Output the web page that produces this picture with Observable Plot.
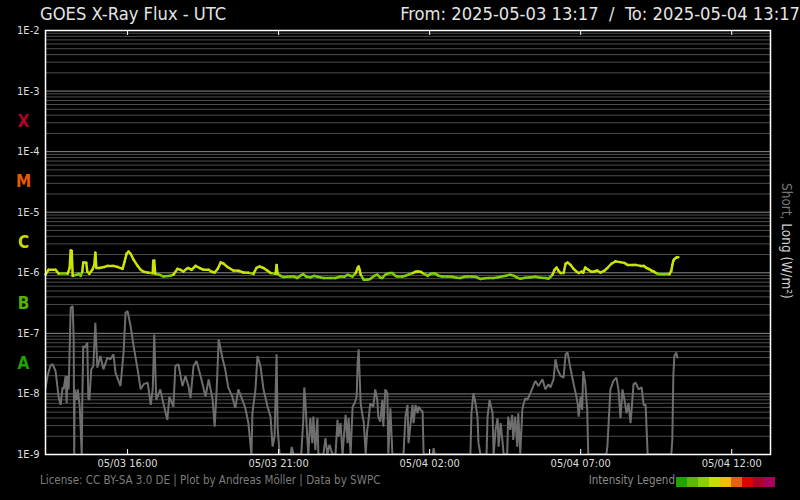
<!DOCTYPE html>
<html>
<head>
<meta charset="utf-8">
<script src="https://cdn.jsdelivr.net/npm/d3@7"></script>
<script src="https://cdn.jsdelivr.net/npm/@observablehq/plot@0.6"></script>
<style>
  html, body { margin: 0; padding: 0; background: #000; }
  #wrap { position: relative; width: 800px; height: 500px; overflow: hidden; background: #000;
          font-family: "DejaVu Sans Condensed", "DejaVu Sans", sans-serif; font-stretch: condensed; }
  #wrap svg { position: absolute; left: 0; top: 0; z-index: 0; }
  #wrap svg text { font-stretch: condensed; }
  .txt { position: absolute; white-space: nowrap; line-height: 1; z-index: 2; }
  #title { left: 40px; top: 4.5px; font-size: 18.2px; color: #e4e4e4; }
  #range { right: 0px; top: 4.5px; font-size: 18.2px; color: #e4e4e4; }
  #license { left: 40px; top: 475px; font-size: 11.5px; color: #7c7c7c; }
  #legendLabel { right: 125px; top: 475px; font-size: 11.5px; color: #8a8a8a; }
  #legendBar { position: absolute; left: 676px; top: 477px; height: 10px; display: flex; z-index: 2; }
  #legendBar div { width: 11px; height: 10px; }
  #ylab { left: 779px; top: 183px; font-size: 13.5px; writing-mode: vertical-rl; }
</style>
</head>
<body>
<div id="wrap">
  <div class="txt" id="title"></div>
  <div class="txt" id="range"></div>
  <div class="txt" id="license"></div>
  <div class="txt" id="legendLabel"></div>
  <div id="legendBar"></div>
  <div class="txt" id="ylab"></div>
</div>
<script>
// ---------- texts ----------
const titleText = "GOES X-Ray Flux - UTC";
const rangeText = "From: 2025-05-03 13:17\u00a0 /\u00a0 To: 2025-05-04 13:17";
const licenseText = "License: CC BY-SA 3.0 DE | Plot by Andreas Möller | Data by SWPC";
const legendText = "Intensity Legend";
const yLabelShort = "Short,";
const yLabelLong = " Long (W/m²)";

// ---------- axes ----------
const startTime = "2025-05-03T13:17:00Z";
const endTime = "2025-05-04T13:17:00Z";
const xTicks = ["2025-05-03T16:00:00Z", "2025-05-03T21:00:00Z", "2025-05-04T02:00:00Z", "2025-05-04T07:00:00Z", "2025-05-04T12:00:00Z"];
const yTicks = [1e-9, 1e-8, 1e-7, 1e-6, 1e-5, 1e-4, 1e-3, 1e-2];

// flare classes (label sits in the middle of its decade)
const classLetters = ["A", "B", "C", "M", "X"];
const classLow = [1e-8, 1e-7, 1e-6, 1e-5, 1e-4];
const classColors = ["#22a300", "#55b300", "#c8d800", "#e85a00", "#b3002a"];

// intensity legend swatches
const legendColors = ["#1fa300", "#5cb800", "#88d000", "#c8e000", "#f0c000", "#e86010", "#e00000", "#b00028", "#a8005c"];

// ---------- data: [minutes after start, flux W/m²] ----------
// Long channel (0.1-0.8 nm)
const longSeries = [
[0,0.93e-6],[6,1.12e-6],[20,1.12e-6],[26,0.97e-6],[44,0.97e-6],[48,1.2e-6],[50,2.33e-6],[52,2.3e-6],[54,0.89e-6],
[62,0.93e-6],[66,0.96e-6],[70,0.89e-6],[73,1.04e-6],[75,1.48e-6],[81,1.46e-6],[83,1.04e-6],[87,0.96e-6],[93,1.12e-6],
[97,1.35e-6],[99,2.14e-6],[101,1.2e-6],[107,1.2e-6],[117,1.25e-6],[123,1.3e-6],[135,1.3e-6],[143,1.25e-6],[153,1.16e-6],
[157,1.52e-6],[161,2.06e-6],[165,2.25e-6],[169,2.06e-6],[175,1.64e-6],[183,1.3e-6],[189,1.12e-6],[195,1.04e-6],[205,1.0e-6],
[213,0.98e-6],[214,1.58e-6],[216,1.58e-6],[218,0.96e-6],[226,0.93e-6],[234,0.87e-6],[248,0.89e-6],[254,0.93e-6],[262,1.16e-6],
[268,1.12e-6],[274,1.05e-6],[280,1.16e-6],[284,1.2e-6],[290,1.12e-6],[298,1.3e-6],[306,1.2e-6],[314,1.12e-6],[324,1.12e-6],
[330,1.04e-6],[336,1.01e-6],[342,1.16e-6],[348,1.48e-6],[354,1.41e-6],[361,1.25e-6],[373,1.09e-6],[383,1.08e-6],[393,1.01e-6],
[403,1.0e-6],[413,0.96e-6],[419,1.2e-6],[425,1.27e-6],[433,1.2e-6],[441,1.08e-6],[447,0.99e-6],[457,0.96e-6],[459,1.35e-6],
[461,0.96e-6],[467,0.89e-6],[473,0.85e-6],[487,0.87e-6],[493,0.87e-6],[500,0.82e-6],[506,0.89e-6],[512,0.95e-6],[518,0.86e-6],
[526,0.84e-6],[534,0.89e-6],[540,0.86e-6],[546,0.84e-6],[552,0.82e-6],[566,0.82e-6],[576,0.82e-6],[586,0.87e-6],[594,0.86e-6],
[600,0.93e-6],[610,0.87e-6],[616,0.99e-6],[620,1.2e-6],[622,1.27e-6],[624,1.12e-6],[626,0.93e-6],[632,0.77e-6],[639,0.77e-6],
[645,0.79e-6],[653,0.89e-6],[659,0.93e-6],[665,0.83e-6],[669,0.82e-6],[675,0.93e-6],[679,0.96e-6],[685,0.99e-6],[689,0.99e-6],
[695,0.89e-6],[699,0.87e-6],[709,0.87e-6],[715,0.89e-6],[721,0.93e-6],[729,0.99e-6],[735,1.04e-6],[739,1.05e-6],[745,1.04e-6],
[749,0.99e-6],[755,0.93e-6],[759,0.89e-6],[765,0.96e-6],[771,0.98e-6],[775,0.96e-6],[781,0.89e-6],[788,0.87e-6],[798,0.87e-6],
[808,0.86e-6],[816,0.83e-6],[824,0.82e-6],[832,0.86e-6],[838,0.87e-6],[846,0.87e-6],[854,0.86e-6],[860,0.82e-6],[864,0.79e-6],
[872,0.81e-6],[880,0.82e-6],[890,0.82e-6],[898,0.84e-6],[904,0.86e-6],[914,0.89e-6],[923,0.93e-6],[931,0.89e-6],[937,0.83e-6],
[943,0.8e-6],[953,0.83e-6],[963,0.84e-6],[973,0.86e-6],[983,0.83e-6],[993,0.82e-6],[999,0.8e-6],[1003,0.86e-6],[1007,0.93e-6],
[1011,1.12e-6],[1015,1.22e-6],[1019,1.08e-6],[1023,0.99e-6],[1029,0.99e-6],[1033,1.41e-6],[1037,1.48e-6],[1043,1.35e-6],
[1049,1.16e-6],[1055,1.04e-6],[1059,0.99e-6],[1065,1.05e-6],[1068,1.0e-6],[1072,1.22e-6],[1078,1.12e-6],[1084,1.04e-6],
[1090,1.05e-6],[1096,1.09e-6],[1102,1.01e-6],[1110,1.08e-6],[1116,1.2e-6],[1124,1.41e-6],[1132,1.54e-6],[1142,1.5e-6],
[1150,1.45e-6],[1156,1.35e-6],[1166,1.35e-6],[1172,1.35e-6],[1182,1.3e-6],[1188,1.3e-6],[1194,1.2e-6],[1199,1.15e-6],
[1204,1.08e-6],[1208,1.05e-6],[1212,1.0e-6],[1216,0.96e-6],[1221,0.95e-6],[1229,0.95e-6],[1239,0.95e-6],[1243,1.08e-6],
[1245,1.35e-6],[1247,1.58e-6],[1249,1.68e-6],[1253,1.79e-6],[1257,1.81e-6]
];

// Short channel (0.05-0.4 nm); 1e-9 = at the floor of the plot
const shortSeries = [
[0,1.22e-8],[4,1.98e-8],[10,2.97e-8],[14,3.09e-8],[20,2.39e-8],[26,9.0e-9],[30,6.6e-9],[34,1.29e-8],[36,1.19e-8],[40,1.98e-8],
[42,7.1e-9],[44,1.98e-8],[46,1.19e-8],[50,2.65e-7],[54,2.82e-7],[56,7.96e-8],[57,1e-9],[58,1.19e-8],[62,7.96e-9],[64,1.19e-8],
[68,6.17e-9],[72,1e-9],[73,7.1e-9],[75,6.17e-8],[79,5.88e-8],[83,7.02e-8],[85,8.5e-9],[87,7.96e-9],[91,2.55e-8],[95,2.89e-8],
[99,1.5e-7],[103,2.72e-8],[109,4.22e-8],[115,2.55e-8],[123,3.98e-8],[129,3.73e-8],[135,4.5e-8],[139,2.25e-8],[149,1.35e-8],
[155,4.81e-8],[159,2.19e-7],[163,2.33e-7],[169,1.32e-7],[175,6.17e-8],[183,2.55e-8],[189,1.19e-8],[195,1.45e-8],[203,1.54e-8],
[209,6.59e-9],[213,1.19e-8],[216,9.6e-8],[220,7.96e-9],[228,1.19e-8],[234,7.0e-9],[242,3.73e-9],[246,9.0e-9],[254,6.17e-9],
[258,2.89e-8],[264,3.09e-8],[272,1.35e-8],[278,1.98e-8],[284,1.35e-8],[288,8.5e-9],[294,2.89e-8],[300,3.5e-8],[308,1.98e-8],
[318,9.0e-9],[324,1.74e-8],[332,7.96e-9],[336,2.89e-9],[340,1.19e-8],[344,7.96e-8],[352,3.73e-8],[357,2.55e-8],[363,1.28e-8],
[371,9.0e-9],[377,5.88e-9],[383,1.19e-8],[391,7.96e-9],[397,5.8e-9],[403,3.29e-9],[409,1e-9],[411,4.81e-9],[417,1.19e-8],
[421,4.22e-8],[427,2.89e-8],[433,1.19e-8],[441,6.17e-9],[447,4.22e-9],[451,1.35e-9],[455,1.98e-9],[459,4.5e-8],[461,2.89e-9],
[465,1e-9],[487,1e-9],[489,1.33e-9],[493,1e-9],[508,1e-9],[512,3.73e-9],[514,1.28e-8],[516,7.96e-9],[520,1.86e-9],[522,1e-9],
[526,3.98e-9],[530,1.54e-9],[532,4.22e-9],[536,1.19e-9],[540,3.98e-9],[542,1e-9],[552,1e-9],[556,1.86e-9],[560,1e-9],
[564,1.45e-9],[570,1e-9],[576,1e-9],[580,3.73e-9],[582,1.98e-9],[586,3.29e-9],[590,1e-9],[596,4.5e-9],[600,1.54e-9],
[602,3.98e-9],[606,1e-9],[610,6.17e-9],[614,7.0e-9],[618,9.0e-9],[620,3.29e-8],[622,5.45e-8],[626,7.0e-9],[630,4.22e-9],
[632,3.5e-9],[636,1.03e-9],[639,2.55e-9],[641,3.29e-9],[645,7.0e-9],[651,6.17e-9],[655,1.19e-8],[659,7.96e-9],[661,4.22e-9],
[665,3.5e-9],[669,7.96e-9],[671,2.89e-9],[675,1.19e-8],[679,1.03e-8],[681,1.03e-9],[685,5.8e-9],[689,1e-9],[711,1e-9],
[715,4.22e-9],[719,6.59e-9],[721,1.54e-9],[729,6.59e-9],[731,3.29e-9],[735,6.59e-9],[739,4.81e-9],[741,6.17e-9],[745,5.45e-9],
[749,5.11e-9],[751,1e-9],[769,1e-9],[771,1.27e-9],[773,1e-9],[844,1e-9],[846,4.81e-9],[850,1.03e-8],[854,7.0e-9],[858,4.22e-9],
[860,1.54e-9],[864,1e-9],[876,1e-9],[878,4.22e-9],[882,7.96e-9],[888,4.81e-9],[890,1e-9],[894,2.55e-9],[898,3.98e-9],
[900,1.35e-9],[904,3.29e-9],[908,1.54e-9],[910,1e-9],[917,1e-9],[919,4.22e-9],[923,2.55e-9],[927,4.5e-9],[929,1.74e-9],
[933,4.22e-9],[937,1.35e-9],[939,4.81e-9],[943,1.03e-9],[947,5.45e-9],[949,6.59e-9],[953,8.5e-9],[957,7.96e-9],[963,1.03e-8],
[973,1.64e-8],[979,1.35e-8],[987,1.74e-8],[993,1.19e-8],[999,1.45e-8],[1003,1.28e-8],[1009,1.74e-8],[1013,3.73e-8],
[1017,2.55e-8],[1023,1.98e-8],[1029,1.86e-8],[1033,4.5e-8],[1037,4.81e-8],[1043,2.55e-8],[1049,1.45e-8],[1053,1.03e-8],
[1057,7.0e-9],[1059,4.22e-9],[1063,9.0e-9],[1066,5.45e-9],[1068,2.39e-8],[1072,1.54e-8],[1076,5.45e-9],[1078,1e-9],
[1114,1e-9],[1116,1.35e-9],[1122,1.19e-8],[1128,1.64e-8],[1134,1.86e-8],[1138,1.19e-8],[1142,3.98e-9],[1146,1.19e-8],
[1150,7.96e-9],[1154,4.81e-9],[1158,7.0e-9],[1162,3.29e-9],[1168,1.45e-8],[1172,1.54e-8],[1178,1.19e-8],[1184,1.28e-8],
[1188,6.59e-9],[1192,6.59e-9],[1196,1e-9],[1243,1e-9],[1245,1.74e-9],[1247,1.98e-8],[1249,4.22e-8],[1253,4.81e-8],[1255,3.98e-8]
];

// ---------- colours ----------
const longColorC = "#cce400";
const longColorB = "#80d000";
const shortColor = "#6e6e6e";

// ---------- build ----------
const t0 = new Date(startTime);
const toDate = m => new Date(t0.getTime() + m * 60000);
const shortData = shortSeries.map(([m, v]) => ({t: toDate(m), v}));
const longData = longSeries.map(([m, v]) => ({t: toDate(m), v}));
const longSegs = d3.pairs(longData).map(([a, b]) => ({t1: a.t, v1: a.v, t2: b.t, v2: b.v, c: Math.sqrt(a.v * b.v) >= 1e-6}));
const minorGrid = [];
for (let i = 0; i < yTicks.length - 1; i++) for (let k = 2; k <= 9; k++) minorGrid.push(yTicks[i] * k);
const classData = classLetters.map((L, i) => ({L, y: classLow[i] * Math.sqrt(10), c: classColors[i]}));
const xTickDates = xTicks.map(d => new Date(d));

const fontFamily = '"DejaVu Sans Condensed", "DejaVu Sans", sans-serif';

const chart = Plot.plot({
  width: 800, height: 500,
  marginTop: 30, marginRight: 30, marginBottom: 46, marginLeft: 45,
  style: {background: "#000", color: "#dddddd", fontFamily, fontSize: "11px"},
  x: {type: "utc", domain: [new Date(startTime), new Date(endTime)], label: null},
  y: {type: "log", domain: [yTicks[0], yTicks[yTicks.length - 1]], label: null},
  color: {type: "identity"},
  marks: [
    Plot.ruleY(minorGrid, {stroke: "#4c4c4c", strokeWidth: 1}),
    Plot.ruleY(yTicks, {stroke: "#8a8a8a", strokeWidth: 1}),
    Plot.line(shortData, {x: "t", y: "v", stroke: shortColor, strokeWidth: 2, strokeLinejoin: "miter", clip: true}),
    Plot.link(longSegs.filter(d => !d.c), {x1: "t1", y1: "v1", x2: "t2", y2: "v2", stroke: longColorB, strokeWidth: 2.5, strokeLinecap: "round"}),
    Plot.link(longSegs.filter(d => d.c), {x1: "t1", y1: "v1", x2: "t2", y2: "v2", stroke: longColorC, strokeWidth: 2.5, strokeLinecap: "round"}),
    Plot.frame({stroke: "#ffffff", strokeWidth: 1.5}),
    Plot.ruleX(xTickDates, {stroke: "#ffffff", insetTop: 419}),
    Plot.ruleX(xTickDates, {stroke: "#ffffff", insetBottom: 419}),
    Plot.axisX({ticks: xTickDates, tickSize: 0, tickPadding: 5, tickFormat: d3.utcFormat("%m/%d %H:%M"), label: null, fill: "#dddddd"}),
    Plot.axisY({ticks: yTicks, tickSize: 0, tickPadding: 6, tickFormat: d => "1E" + Math.round(Math.log10(d)), label: null, fill: "#dddddd"}),
    Plot.text(classData, {y: "y", text: "L", fill: "c", frameAnchor: "left", textAnchor: "middle", dx: -22, fontSize: 17, fontWeight: "bold"})
  ]
});
const wrap = document.getElementById("wrap");
wrap.insertBefore(chart, wrap.firstChild);

document.getElementById("title").textContent = titleText;
document.getElementById("range").textContent = rangeText;
document.getElementById("license").textContent = licenseText;
document.getElementById("legendLabel").textContent = legendText;
const bar = document.getElementById("legendBar");
legendColors.forEach(c => { const s = document.createElement("div"); s.style.background = c; bar.appendChild(s); });
const yl = document.getElementById("ylab");
const s1 = document.createElement("span"); s1.textContent = yLabelShort; s1.style.color = "#777";
const s2 = document.createElement("span"); s2.textContent = yLabelLong; s2.style.color = "#cfcfcf";
yl.appendChild(s1); yl.appendChild(s2);
</script>
</body>
</html>
